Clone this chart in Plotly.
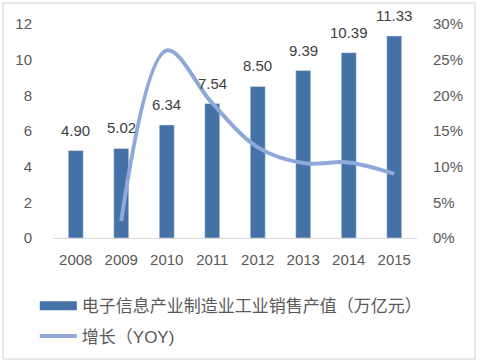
import plotly.graph_objects as go

years = ["2008", "2009", "2010", "2011", "2012", "2013", "2014", "2015"]
sales = [4.90, 5.02, 6.34, 7.54, 8.50, 9.39, 10.39, 11.33]
growth_years = ["2009", "2010", "2011", "2012", "2013", "2014", "2015"]
growth = [0.024, 0.263, 0.189, 0.127, 0.105, 0.106, 0.090]
sales_name = "电子信息产业制造业工业销售产值（万亿元）"
growth_name = "增长（YOY)"
left_ticks = [0, 2, 4, 6, 8, 10, 12]
right_ticks = [0, 0.05, 0.10, 0.15, 0.20, 0.25, 0.30]

BAR = "#4472A6"
LINE = "#8EA9D8"
TXT = "#595959"
FONT = "Liberation Sans, Noto Sans CJK SC, sans-serif"

fig = go.Figure()
fig.add_trace(go.Bar(
    x=years, y=sales, marker_color=BAR, showlegend=False,
))
fig.add_trace(go.Scatter(
    x=growth_years, y=growth, yaxis="y2", mode="lines",
    line=dict(color=LINE, width=4, shape="spline", smoothing=1.0),
    showlegend=False,
))
# legend entries
fig.add_trace(go.Scatter(x=[None], y=[None], mode="lines", name=sales_name,
                         legendgroup="a", line=dict(color=BAR, width=9)))
fig.add_trace(go.Scatter(x=[None], y=[None], mode="lines", name=growth_name,
                         legendgroup="b", line=dict(color=LINE, width=4)))

# value labels (category axis: annotations use category index)
for i, v in enumerate(sales):
    fig.add_annotation(x=i, y=v, xref="x", yref="y", text=f"{v:.2f}",
                       showarrow=False, yanchor="bottom", yshift=10,
                       font=dict(size=15, color="#404040"))

fig.update_layout(
    width=484, height=364,
    margin=dict(l=53, r=67, t=24, b=126, autoexpand=False),
    paper_bgcolor="white", plot_bgcolor="white",
    font=dict(family=FONT, size=15, color=TXT),
    bargap=0.67,
    xaxis=dict(type="category", categoryorder="array", categoryarray=years,
               range=[-0.5, len(years) - 0.5],
               showgrid=False, showline=True,
               linecolor="#D9D9D9", linewidth=1, ticks="",
               ticklabelstandoff=8, tickfont=dict(size=15, color=TXT)),
    yaxis=dict(range=[0, 12], tickvals=left_ticks, showgrid=False,
               zeroline=False, showline=False, ticks="",
               ticklabelstandoff=20, tickfont=dict(size=15, color=TXT)),
    yaxis2=dict(range=[0, 0.30], tickvals=right_ticks, tickformat=".0%",
                overlaying="y", side="right", showgrid=False,
                zeroline=False, showline=False, ticks="",
                ticklabelstandoff=15, tickfont=dict(size=15, color=TXT)),
    legend=dict(orientation="v", x=-0.05, y=-0.235, xanchor="left", yanchor="top",
                font=dict(size=17, color=TXT), itemwidth=37,
                tracegroupgap=5, bgcolor="rgba(0,0,0,0)"),
    shapes=[dict(type="rect", xref="paper", yref="paper",
                 x0=-50/364, x1=(475-53)/364, y0=-(359-238)/214, y1=(238-3)/214,
                 line=dict(color="#D0D0D0", width=1))],
)
fig.write_html("out.html", config={"displayModeBar": False},
               post_script="document.body.style.margin='0';")
